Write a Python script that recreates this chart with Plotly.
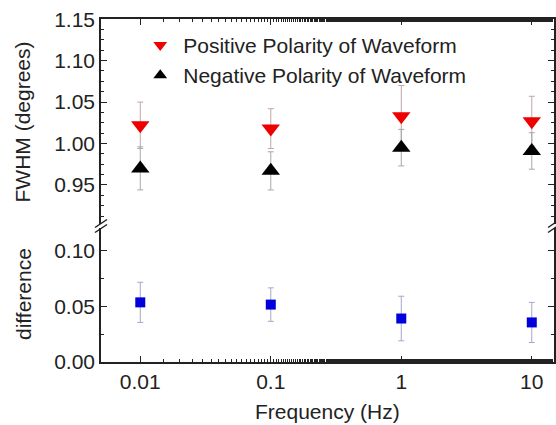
import math
import plotly.graph_objects as go

# ---- data ----
freq = [0.01, 0.1, 1, 10]
freq_ticks = [0.01, 0.1, 1, 10]
freq_ticktext = ["0.01", "0.1", "1", "10"]

pos_fwhm = [1.022, 1.018, 1.033, 1.027]
pos_err = [0.028, 0.024, 0.037, 0.030]
neg_fwhm = [0.970, 0.967, 0.995, 0.991]
neg_err = [0.026, 0.023, 0.022, 0.022]
diff = [0.0535, 0.0515, 0.039, 0.0355]
diff_err = [0.018, 0.015, 0.020, 0.018]

pos_name = "Positive Polarity of Waveform"
neg_name = "Negative Polarity of Waveform"
x_title = "Frequency (Hz)"
y_top_title = "FWHM (degrees)"
y_bot_title = "difference"

FONT = "Arial, Liberation Sans, sans-serif"
split = 0.3965  # bottom panel fraction

fig = go.Figure()

fig.add_trace(go.Scatter(
    x=freq, y=pos_fwhm, mode="markers", name=pos_name,
    marker=dict(symbol="triangle-down", size=16, color="#ee0000"),
    error_y=dict(type="data", array=pos_err, color="#bfa5a5", thickness=1, width=3),
    xaxis="x2", yaxis="y2"))
fig.add_trace(go.Scatter(
    x=freq, y=neg_fwhm, mode="markers", name=neg_name,
    marker=dict(symbol="triangle-up", size=16, color="#000000"),
    error_y=dict(type="data", array=neg_err, color="#a8a8a8", thickness=1, width=3),
    xaxis="x2", yaxis="y2"))
fig.add_trace(go.Scatter(
    x=freq, y=diff, mode="markers", name="difference", showlegend=False,
    marker=dict(symbol="square", size=10, color="#0000dd"),
    error_y=dict(type="data", array=diff_err, color="#a5a8c8", thickness=1, width=3),
    xaxis="x", yaxis="y"))

xr = [math.log10(0.005), math.log10(14.8)]

common_x = dict(type="log", range=xr, showline=True, linecolor="#222", linewidth=1.5,
                ticks="inside", ticklen=6, tickcolor="#222", showgrid=False, zeroline=False,
                tickvals=freq_ticks, ticktext=freq_ticktext, automargin=False,
                minor=dict(ticks="inside", ticklen=3, tickcolor="#222", showgrid=False))

common_y = dict(showline=True, linecolor="#222", linewidth=1.5, mirror="ticks",
                ticks="inside", ticklen=6, tickcolor="#222", showgrid=False, zeroline=False,
                tickmode="linear", tickformat=".2f", automargin=False,
                tickfont=dict(size=21))

fig.update_layout(
    width=556, height=425,
    margin=dict(l=101, r=2, t=19, b=63),
    paper_bgcolor="white", plot_bgcolor="white",
    font=dict(family=FONT, size=21, color="#222"),
    xaxis=dict(**common_x, domain=[0, 1], anchor="y", side="bottom",
               tickfont=dict(size=21)),
    xaxis2=dict(**common_x, domain=[0, 1], anchor="y2", side="top",
                matches="x", showticklabels=False),
    yaxis=dict(**common_y, domain=[0, split], range=[0, 0.122], anchor="x",
               tick0=0, dtick=0.05,
               minor=dict(ticks="inside", ticklen=3, tickcolor="#222", dtick=0.025, tick0=0, showgrid=False)),
    yaxis2=dict(**common_y, domain=[split, 1], range=[0.9005, 1.1502], anchor="x2",
                tick0=0.9, dtick=0.05,
                minor=dict(ticks="inside", ticklen=3, tickcolor="#222", dtick=0.0125, tick0=0.9, showgrid=False)),
    legend=dict(x=0.08, y=0.983, xanchor="left", yanchor="top",
                bgcolor="rgba(0,0,0,0)", font=dict(size=21, family=FONT),
                itemsizing="constant", itemwidth=36, tracegroupgap=0),
    showlegend=True,
)

# axis titles
fig.add_annotation(text=x_title, xref="paper", yref="paper", x=0.5, y=0,
                   yshift=-49, xanchor="center", yanchor="middle", showarrow=False,
                   font=dict(size=21))
fig.add_annotation(text=y_top_title, xref="paper", yref="paper", x=0, y=(1 + split) / 2,
                   xshift=-78, xanchor="center", yanchor="middle", textangle=-90, showarrow=False,
                   font=dict(size=21))
fig.add_annotation(text=y_bot_title, xref="paper", yref="paper", x=0, y=split / 2,
                   xshift=-78, xanchor="center", yanchor="middle", textangle=-90, showarrow=False,
                   font=dict(size=21))

# axis-break marks ("//") on the left and right axes
for xa in (0, 1):
    fig.add_shape(type="rect", xref="paper", yref="paper",
                  xsizemode="pixel", ysizemode="pixel", xanchor=xa, yanchor=split,
                  x0=-3, x1=3, y0=-2, y1=2, fillcolor="white", line=dict(width=0), layer="above")
    for off in (-2.5, 2.5):
        fig.add_shape(type="line", xref="paper", yref="paper",
                      xsizemode="pixel", ysizemode="pixel", xanchor=xa, yanchor=split,
                      x0=-6, x1=6, y0=off - 4, y1=off + 4,
                      line=dict(color="#222", width=1.5), layer="above")

fig.write_html("out.html", config={"displayModeBar": False},
               post_script="document.body.style.margin='0px';")
